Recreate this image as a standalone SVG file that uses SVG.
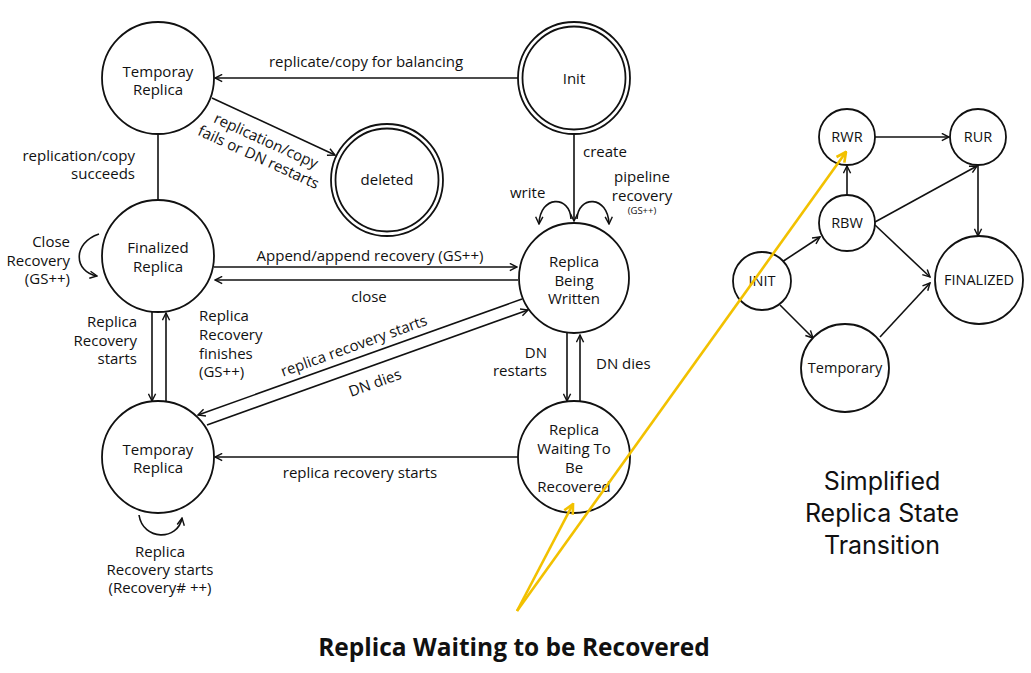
<svg xmlns="http://www.w3.org/2000/svg" width="1031" height="673" viewBox="0 0 1031 673">
<style>
.n{fill:#fff;stroke:#111;stroke-width:1.8}
.e{fill:none;stroke:#111;stroke-width:1.6}
.y{fill:none;stroke:#f2c100;stroke-width:2.6}
text{font-family:"Open Sans","Noto Sans","Liberation Sans",sans-serif;fill:#111;font-size:15px}
.c{text-anchor:middle}
.r{text-anchor:end}
.s{font-size:14.5px}
.t{font-family:Inter,"Open Sans",sans-serif;font-size:25px}
</style>
<defs>
<marker id="a" viewBox="0 0 10 10" refX="9" refY="5" markerWidth="9" markerHeight="9" markerUnits="userSpaceOnUse" orient="auto">
<path d="M1,1 L9,5 L1,9" fill="none" stroke="#111" stroke-width="1.6"/>
</marker>
<marker id="ay" viewBox="0 0 10 10" refX="9" refY="5" markerWidth="12" markerHeight="12" markerUnits="userSpaceOnUse" orient="auto">
<path d="M1,1 L9,5 L1,9" fill="none" stroke="#f2c100" stroke-width="2.2"/>
</marker>
</defs>
<rect width="1031" height="673" fill="#fff"/>

<g id="connectors">
<line class="e" x1="518" y1="78" x2="215" y2="78" marker-end="url(#a)"/>
<line class="e" x1="212" y1="98" x2="335" y2="155" marker-end="url(#a)"/>
<line class="e" x1="158" y1="134" x2="158" y2="200"/>
<line class="e" x1="574" y1="134" x2="574" y2="221" marker-end="url(#a)"/>
<path class="e" d="M571,219 C570,195 540,195 539,224" marker-end="url(#a)"/>
<path class="e" d="M577,219 C578,195 608,195 609,224" marker-end="url(#a)"/>
<line class="e" x1="214" y1="267" x2="517" y2="267" marker-end="url(#a)"/>
<line class="e" x1="518" y1="280" x2="215" y2="280" marker-end="url(#a)"/>
<path class="e" d="M99,234 C72,243 74,272 97,276" marker-end="url(#a)"/>
<line class="e" x1="152" y1="312" x2="152" y2="401" marker-end="url(#a)"/>
<line class="e" x1="166" y1="402" x2="166" y2="313" marker-end="url(#a)"/>
<line class="e" x1="522" y1="299" x2="198" y2="415" marker-end="url(#a)"/>
<line class="e" x1="207" y1="425" x2="528" y2="310" marker-end="url(#a)"/>
<line class="e" x1="567" y1="333" x2="567" y2="401" marker-end="url(#a)"/>
<line class="e" x1="580" y1="402" x2="580" y2="335" marker-end="url(#a)"/>
<line class="e" x1="518" y1="457" x2="215" y2="457" marker-end="url(#a)"/>
<path class="e" d="M139,515 C143,541 178,541 182,518" marker-end="url(#a)"/>

<line class="e" x1="875" y1="137" x2="949" y2="137" marker-end="url(#a)"/>
<line class="e" x1="847" y1="195" x2="847" y2="166" marker-end="url(#a)"/>
<line class="e" x1="782" y1="262" x2="820" y2="237" marker-end="url(#a)"/>
<line class="e" x1="875" y1="222" x2="977" y2="166" marker-end="url(#a)"/>
<line class="e" x1="978" y1="165" x2="978" y2="236" marker-end="url(#a)"/>
<line class="e" x1="875" y1="225" x2="930" y2="277" marker-end="url(#a)"/>
<line class="e" x1="780" y1="305" x2="813" y2="338" marker-end="url(#a)"/>
<line class="e" x1="880" y1="337" x2="930" y2="283" marker-end="url(#a)"/>
</g>

<g id="labels">
<text class="c" x="366" y="67">replicate/copy for balancing</text>
<g transform="translate(266,141) rotate(24.6)">
<text class="c" x="0" y="5">replication/copy</text>
<text class="c" x="0" y="23">fails or DN restarts</text>
</g>
<text class="r" x="135" y="161">replication/copy</text>
<text class="r" x="135" y="179">succeeds</text>
<text x="583" y="157">create</text>
<text x="510" y="198">write</text>
<text class="c" x="642" y="182">pipeline</text>
<text class="c" x="642" y="201">recovery</text>
<text class="c" x="642" y="214" style="font-size:9.5px">(GS++)</text>
<text class="c" x="370" y="261">Append/append recovery (GS++)</text>
<text class="c" x="369" y="302">close</text>
<text class="r" x="70" y="247">Close</text>
<text class="r" x="70" y="266">Recovery</text>
<text class="r" x="70" y="284">(GS++)</text>
<text class="r" x="137" y="327">Replica</text>
<text class="r" x="137" y="346">Recovery</text>
<text class="r" x="137" y="364">starts</text>
<text x="199" y="321">Replica</text>
<text x="199" y="340">Recovery</text>
<text x="199" y="359">finishes</text>
<text x="199" y="377">(GS++)</text>
<g transform="translate(354,346) rotate(-19.8)"><text class="c" x="0" y="5">replica recovery starts</text></g>
<g transform="translate(375,383) rotate(-19.8)"><text class="c" x="0" y="5">DN dies</text></g>
<text class="r" x="547" y="358">DN</text>
<text class="r" x="547" y="376">restarts</text>
<text x="596" y="369">DN dies</text>
<text class="c" x="360" y="478">replica recovery starts</text>
<text class="c" x="160" y="557">Replica</text>
<text class="c" x="160" y="575">Recovery starts</text>
<text class="c" x="160" y="593">(Recovery# ++)</text>
</g>

<g id="temp-top"><circle class="n" cx="158" cy="78" r="56"/><text class="c" x="158" y="77">Temporay</text><text class="c" x="158" y="95">Replica</text></g>
<g id="init"><circle class="n" cx="574" cy="78" r="56"/><circle class="n" cx="574" cy="78" r="51.5"/><text class="c" x="574" y="84">Init</text></g>
<g id="deleted"><circle class="n" cx="387" cy="180" r="56"/><circle class="n" cx="387" cy="180" r="51.5"/><text class="c" x="387" y="185">deleted</text></g>
<g id="finalized"><circle class="n" cx="158" cy="256" r="56"/><text class="c" x="158" y="253">Finalized</text><text class="c" x="158" y="272">Replica</text></g>
<g id="rbw"><circle class="n" cx="574" cy="278" r="55"/><text class="c" x="574" y="267">Replica</text><text class="c" x="574" y="286">Being</text><text class="c" x="574" y="304">Written</text></g>
<g id="temp-bottom"><circle class="n" cx="158" cy="457" r="56"/><text class="c" x="158" y="455">Temporay</text><text class="c" x="158" y="473">Replica</text></g>
<g id="rwr-main"><circle class="n" cx="574" cy="457" r="56"/><text class="c" x="574" y="435">Replica</text><text class="c" x="574" y="454">Waiting To</text><text class="c" x="574" y="473">Be</text><text class="c" x="574" y="492">Recovered</text></g>

<g id="s-rwr"><circle class="n" cx="847" cy="137" r="28"/><text class="c s" x="847" y="142">RWR</text></g>
<g id="s-rur"><circle class="n" cx="978" cy="137" r="28"/><text class="c s" x="978" y="142">RUR</text></g>
<g id="s-rbw"><circle class="n" cx="847" cy="223" r="28"/><text class="c s" x="847" y="228">RBW</text></g>
<g id="s-init"><circle class="n" cx="762" cy="281" r="29"/><text class="c s" x="762" y="286">INIT</text></g>
<g id="s-finalized"><circle class="n" cx="979" cy="280" r="44"/><text class="c s" x="979" y="285">FINALIZED</text></g>
<g id="s-temporary"><circle class="n" cx="845" cy="368" r="44"/><text class="c s" x="845" y="373">Temporary</text></g>

<g id="titles">
<text class="c t" x="882" y="490">Simplified</text>
<text class="c t" x="882" y="522">Replica State</text>
<text class="c t" x="882" y="554">Transition</text>
<text class="c" x="514" y="656" style="font-size:24.5px;font-weight:bold">Replica Waiting to be Recovered</text>
</g>

<g id="highlight">
<line class="y" x1="517" y1="611" x2="573" y2="504" marker-end="url(#ay)"/>
<line class="y" x1="517" y1="611" x2="846" y2="152" marker-end="url(#ay)"/>
</g>
</svg>
